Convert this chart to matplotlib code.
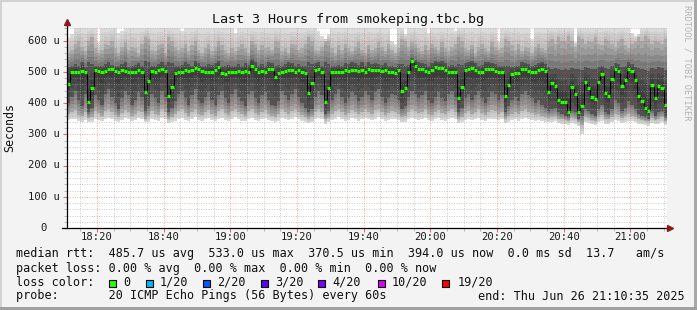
import numpy as np
import matplotlib
matplotlib.use('Agg')
import matplotlib.pyplot as plt
from matplotlib.patches import Rectangle
from matplotlib.colors import to_rgb
from matplotlib.transforms import blended_transform_factory

# ---------------- data ----------------
START_MIN = 11  # first sample column starts at 18:11 (minutes after 18:00)

median = [
    462, 500, 500, 500, 503, 500, 402, 447, 506, 503,
    500, 503, 508, 508, 503, 500, 505, 503, 500, 500,
    500, 505, 500, 434, 470, 503, 500, 505, 508, 503,
    422, 450, 496, 500, 500, 505, 503, 506, 512, 510,
    503, 500, 500, 500, 505, 516, 495, 494, 500, 500,
    500, 503, 500, 503, 500, 519, 508, 500, 503, 500,
    508, 508, 484, 495, 500, 503, 506, 506, 500, 505,
    500, 495, 431, 465, 505, 508, 500, 402, 447, 500,
    500, 500, 500, 505, 503, 506, 506, 503, 506, 500,
    508, 505, 505, 505, 503, 505, 500, 500, 496, 505,
    438, 447, 500, 533, 519, 508, 508, 503, 500, 505,
    516, 512, 513, 505, 500, 500, 500, 415, 452, 505,
    508, 512, 505, 500, 500, 510, 510, 508, 503, 500,
    500, 422, 458, 493, 496, 497, 508, 508, 503, 500,
    500, 506, 510, 503, 434, 463, 454, 410, 404, 402,
    372, 450, 428, 370.5, 391, 468, 447, 420, 414, 468,
    493, 431, 424, 477, 508, 503, 453, 475, 508, 503,
    475, 422, 405, 384, 374, 458, 415, 454, 447, 394,
]

smoke_max = [
    610, 620, 640, 640, 640, 640, 640, 640, 640, 595,
    640, 640, 640, 640, 640, 625, 630, 640, 640, 640,
    640, 640, 640, 640, 640, 640, 640, 640, 640, 640,
    640, 640, 640, 640, 630, 640, 640, 640, 640, 640,
    640, 640, 640, 640, 640, 640, 640, 640, 640, 640,
    625, 640, 640, 640, 640, 640, 640, 640, 640, 640,
    640, 640, 640, 640, 640, 640, 640, 640, 640, 640,
    640, 640, 640, 640, 640, 630, 615, 600, 620, 640,
    640, 640, 640, 640, 640, 640, 640, 640, 640, 640,
    640, 640, 640, 640, 640, 640, 640, 600, 590, 640,
    640, 620, 640, 640, 640, 640, 640, 640, 625, 640,
    640, 640, 640, 640, 640, 640, 630, 640, 640, 640,
    640, 640, 640, 640, 640, 640, 640, 640, 640, 600,
    640, 640, 640, 640, 640, 640, 640, 640, 640, 605,
    640, 640, 640, 640, 640, 640, 640, 640, 640, 640,
    640, 640, 595, 640, 640, 640, 640, 640, 640, 640,
    640, 640, 640, 640, 640, 640, 640, 640, 640, 625,
    615, 620, 640, 640, 640, 640, 640, 640, 640, 640,
]

smoke_hi2 = [
    560, 570, 590, 600, 580, 565, 600, 610, 575, 560,
    570, 590, 585, 600, 575, 560, 580, 595, 570, 580,
    575, 560, 590, 610, 605, 570, 565, 585, 590, 560,
    610, 600, 580, 570, 575, 590, 565, 585, 600, 570,
    560, 575, 590, 565, 580, 600, 585, 570, 560, 575,
    565, 580, 590, 575, 560, 600, 590, 570, 585, 575,
    580, 570, 600, 595, 565, 575, 560, 590, 585, 570,
    575, 590, 610, 600, 570, 565, 580, 605, 600, 575,
    560, 585, 570, 590, 575, 565, 580, 595, 570, 560,
    585, 570, 575, 595, 580, 565, 590, 570, 560, 575,
    605, 600, 580, 595, 590, 575, 565, 585, 570, 590,
    580, 570, 595, 575, 565, 580, 590, 610, 600, 575,
    570, 585, 560, 580, 590, 575, 565, 595, 580, 570,
    575, 605, 600, 585, 570, 590, 565, 580, 575, 560,
    580, 590, 575, 570, 600, 605, 590, 610, 600, 595,
    615, 600, 580, 610, 605, 590, 600, 595, 610, 590,
    585, 605, 600, 590, 580, 595, 605, 585, 575, 590,
    595, 610, 600, 615, 605, 590, 600, 595, 590, 605,
]

smoke_hi1 = [
    515, 520, 525, 520, 530, 515, 530, 525, 520, 518,
    520, 525, 530, 522, 518, 520, 525, 530, 515, 520,
    522, 528, 520, 535, 530, 520, 518, 525, 530, 522,
    530, 528, 520, 518, 522, 530, 525, 520, 535, 528,
    520, 518, 525, 522, 528, 535, 520, 518, 522, 520,
    518, 525, 520, 528, 522, 540, 530, 520, 525, 518,
    530, 528, 520, 522, 518, 525, 530, 528, 520, 525,
    520, 518, 530, 525, 528, 530, 520, 530, 525, 520,
    518, 522, 520, 528, 525, 530, 528, 522, 530, 520,
    530, 525, 528, 525, 522, 528, 520, 518, 516, 525,
    525, 520, 522, 545, 538, 530, 528, 525, 520, 528,
    535, 532, 533, 528, 520, 522, 518, 525, 522, 528,
    530, 535, 528, 520, 522, 532, 530, 528, 525, 520,
    518, 520, 518, 515, 518, 520, 530, 528, 525, 520,
    522, 528, 532, 525, 515, 510, 512, 508, 505, 510,
    505, 512, 510, 508, 505, 515, 512, 510, 508, 515,
    520, 512, 510, 518, 528, 525, 515, 520, 530, 525,
    515, 512, 508, 505, 502, 512, 508, 515, 512, 505,
]

smoke_lo1 = [
    400, 420, 440, 410, 390, 430, 370, 385, 425, 410,
    395, 430, 445, 420, 400, 380, 415, 440, 425, 395,
    410, 435, 420, 375, 390, 430, 415, 400, 440, 420,
    370, 385, 405, 430, 440, 415, 395, 425, 445, 410,
    400, 420, 435, 410, 395, 425, 440, 415, 400, 430,
    445, 420, 405, 390, 430, 440, 415, 400, 425, 435,
    410, 395, 390, 405, 440, 425, 410, 430, 445, 420,
    400, 385, 370, 380, 420, 440, 425, 365, 375, 410,
    430, 445, 420, 400, 415, 435, 425, 405, 420, 440,
    425, 410, 435, 445, 420, 400, 415, 430, 425, 410,
    380, 390, 420, 440, 430, 415, 425, 440, 410, 400,
    420, 435, 415, 405, 430, 440, 420, 370, 385, 415,
    430, 410, 425, 440, 415, 400, 420, 435, 430, 410,
    425, 370, 390, 410, 420, 405, 430, 440, 425, 415,
    400, 410, 395, 385, 375, 380, 385, 370, 365, 360,
    355, 375, 370, 350, 360, 380, 375, 365, 360, 380,
    395, 370, 365, 380, 410, 400, 375, 385, 405, 395,
    380, 365, 360, 355, 350, 375, 360, 370, 375, 355,
]

smoke_lo2 = [
    365, 372, 378, 362, 358, 370, 352, 356, 374, 368,
    360, 375, 380, 370, 362, 355, 368, 378, 372, 360,
    366, 376, 370, 350, 358, 374, 366, 362, 380, 372,
    350, 356, 364, 376, 380, 368, 360, 372, 382, 366,
    362, 370, 378, 366, 360, 374, 380, 368, 362, 376,
    382, 370, 364, 358, 376, 380, 368, 362, 372, 378,
    366, 360, 356, 364, 380, 372, 366, 376, 382, 370,
    362, 356, 350, 354, 370, 380, 372, 348, 352, 366,
    376, 382, 370, 362, 368, 378, 372, 364, 370, 380,
    372, 366, 378, 382, 370, 362, 368, 376, 372, 366,
    354, 358, 370, 380, 376, 368, 372, 380, 366, 362,
    370, 378, 368, 364, 376, 380, 370, 350, 356, 368,
    376, 366, 372, 380, 368, 362, 370, 378, 376, 366,
    372, 350, 358, 366, 370, 364, 376, 380, 372, 368,
    362, 366, 360, 356, 352, 355, 358, 350, 348, 346,
    344, 352, 350, 340, 330, 355, 352, 346, 344, 356,
    362, 350, 348, 356, 366, 362, 352, 358, 364, 360,
    354, 348, 346, 344, 342, 352, 346, 350, 354, 344,
]

smoke_min = [
    345, 348, 350, 342, 340, 346, 338, 340, 350, 346,
    344, 350, 352, 348, 342, 340, 346, 352, 350, 344,
    346, 352, 348, 338, 340, 350, 346, 344, 352, 348,
    336, 340, 344, 350, 352, 346, 342, 348, 354, 346,
    344, 348, 352, 346, 342, 350, 352, 346, 344, 350,
    354, 348, 344, 342, 350, 352, 346, 344, 348, 352,
    346, 342, 340, 344, 352, 348, 346, 350, 354, 348,
    344, 340, 336, 338, 348, 352, 348, 334, 338, 346,
    350, 354, 348, 344, 346, 352, 348, 344, 348, 352,
    348, 346, 350, 354, 348, 344, 346, 350, 348, 346,
    338, 340, 348, 352, 350, 346, 348, 352, 346, 344,
    348, 352, 346, 344, 350, 352, 348, 336, 340, 346,
    350, 346, 348, 352, 346, 344, 348, 350, 350, 346,
    348, 336, 340, 346, 348, 344, 350, 352, 348, 346,
    344, 346, 342, 340, 338, 340, 342, 336, 334, 332,
    330, 336, 334, 325, 300, 338, 336, 332, 330, 338,
    342, 334, 332, 338, 346, 342, 336, 340, 344, 342,
    338, 334, 332, 330, 328, 336, 332, 334, 338, 330,
]

x_tick_pos = [20, 40, 60, 80, 100, 120, 140, 160, 180]
x_tick_labels = ["18:20", "18:40", "19:00", "19:20", "19:40",
                 "20:00", "20:20", "20:40", "21:00"]
y_ticks = [0, 100, 200, 300, 400, 500, 600]
y_tick_labels = ["0", "100 u", "200 u", "300 u", "400 u", "500 u", "600 u"]

loss_labels = ["0", "1/20", "2/20", "3/20", "4/20", "10/20", "19/20"]
loss_colors = ["#26ff00", "#00b8ff", "#0059ff", "#5e00ff", "#7e00ff",
               "#dd00ff", "#ff0000"]

title = "Last 3 Hours from smokeping.tbc.bg"
legend_rtt = ("median rtt:  485.7 us avg  533.0 us max  370.5 us min  "
              "394.0 us now  0.0 ms sd  13.7   am/s")
legend_loss = "packet loss: 0.00 % avg  0.00 % max  0.00 % min  0.00 % now"
legend_probe = "probe:       20 ICMP Echo Pings (56 Bytes) every 60s"
legend_end = "end: Thu Jun 26 21:10:35 2025"

# ---------------- figure ----------------
W, H = 697, 310
MONO = "DejaVu Sans Mono"

fig = plt.figure(figsize=(W / 100, H / 100), dpi=100)
fig.patch.set_facecolor("#f3f3f3")


def fx(px):
    return px / W


def fy(py):
    return 1 - py / H


ax = fig.add_axes([fx(67), fy(228), 600 / W, 200 / H])
ax.set_facecolor("white")
for s in ax.spines.values():
    s.set_visible(False)

n = len(median)
xe = START_MIN + np.arange(n + 1)


def ext(a):
    a = np.asarray(a, dtype=float)
    return np.append(a, a[-1])


def mix(c1, c2, t):
    a, b = np.array(to_rgb(c1)), np.array(to_rgb(c2))
    return tuple(a + (b - a) * t)


def grad_band(inner, outer, c_in, c_out, k=4):
    """Shade the region between inner and outer edges in k tone steps."""
    inner = ext(inner)
    outer = ext(outer)
    for j in range(k):
        e0 = inner + (outer - inner) * j / k
        e1 = inner + (outer - inner) * (j + 1) / k
        ax.fill_between(xe, e0, e1, step="post",
                        color=mix(c_in, c_out, (j + 0.5) / k),
                        linewidth=0, antialiased=False, zorder=1)


med_c = np.clip(np.asarray(median, float), smoke_lo1, smoke_hi1)
grad_band(med_c, smoke_hi1, "#363636", "#585858", 3)
grad_band(smoke_hi1, smoke_hi2, "#707070", "#b0b0b0", 4)
grad_band(smoke_hi2, smoke_max, "#bababa", "#dedede", 4)
grad_band(med_c, smoke_lo1, "#363636", "#585858", 3)
grad_band(smoke_lo1, smoke_lo2, "#6e6e6e", "#aaaaaa", 4)
grad_band(smoke_lo2, smoke_min, "#bcbcbc", "#dcdcdc", 3)

ax.set_xlim(START_MIN, START_MIN + n)
ax.set_ylim(0, 640)

# grid (drawn over the smoke like rrdtool)
dots = (0, (1, 1.5))
for m in range(15, 195, 5):
    if m % 20 != 0:
        ax.axvline(m, color="#a8a8a8", lw=0.7, ls=dots, alpha=0.6, zorder=2)
for v in range(20, 660, 20):
    if v % 100 != 0:
        ax.axhline(v, color="#a8a8a8", lw=0.7, ls=dots, alpha=0.6, zorder=2)
for m in x_tick_pos:
    ax.axvline(m, color="#ff3030", lw=0.7, ls=dots, alpha=0.45, zorder=2)
for v in y_ticks[1:]:
    ax.axhline(v, color="#ff3030", lw=0.7, ls=dots, alpha=0.45, zorder=2)

# median: thin black step line + green loss-coloured segments
ax.step(xe, ext(median), where="post", color="black", lw=0.7, zorder=3)
ax.hlines(median, xe[:-1], xe[1:], colors=loss_colors[0], lw=2.3,
          zorder=4)

# ticks
ax.set_xticks(x_tick_pos)
ax.set_xticks(list(range(15, 195, 5)), minor=True)
ax.set_yticks(y_ticks)
ax.set_yticks(list(range(0, 660, 20)), minor=True)
ax.tick_params(which="major", length=3, width=0.8, color="#e07070",
               labelbottom=False, labelleft=False, direction="out")
ax.tick_params(which="minor", length=2, width=0.6, color="#b0b0b0",
               direction="out")

# axis lines + arrows
ax.plot([START_MIN, START_MIN], [0, 662], color="black", lw=0.9,
        clip_on=False, zorder=5)
ax.plot([START_MIN - 1.5, START_MIN + n + 0.8], [0, 0], color="black",
        lw=0.9, clip_on=False, zorder=5)
ax.plot([START_MIN], [658], marker="^", color="#8b1a1a", markersize=4.5,
        clip_on=False, zorder=6)
ax.plot([START_MIN + n + 1.0], [0], marker=">", color="#8b1a1a",
        markersize=4.5, clip_on=False, zorder=6)

# tick labels
ylab_tr = blended_transform_factory(fig.transFigure, ax.transData)
for v, lab in zip(y_ticks, y_tick_labels):
    xr = 59.5 if lab != "0" else 46.5
    ax.text(fx(xr), v, lab, transform=ylab_tr, ha="right", va="center",
            family=MONO, fontsize=7.6, color="#1a1a1a")
xlab_tr = blended_transform_factory(ax.transData, fig.transFigure)
for m, lab in zip(x_tick_pos, x_tick_labels):
    ax.text(m, fy(237.5), lab, transform=xlab_tr, ha="center", va="center",
            family=MONO, fontsize=7.6, color="#1a1a1a")

# texts
fig.text(fx(348), fy(20), title, ha="center", va="center", family=MONO,
         fontsize=9.6, color="#111111")
fig.text(fx(10), fy(127), "Seconds", rotation=90, ha="center", va="center",
         family=MONO, fontsize=8.4, color="#111111")
fig.text(fx(687), fy(5), "RRDTOOL / TOBI OETIKER", rotation=270,
         ha="center", va="top", family=MONO, fontsize=6.2, color="#b4b4b4")

LEG = 8.5
fig.text(fx(16), fy(254), legend_rtt, ha="left", va="center", family=MONO,
         fontsize=LEG, color="#111111")
fig.text(fx(16), fy(268.3), legend_loss, ha="left", va="center",
         family=MONO, fontsize=LEG, color="#111111")
fig.text(fx(16), fy(282.3), "loss color:", ha="left", va="center",
         family=MONO, fontsize=LEG, color="#111111")
box_x = [108.7, 145.7, 203.3, 261.0, 318.3, 378.3, 442.3]
lab_x = [123.3, 160.0, 217.3, 275.3, 332.7, 391.7, 457.3]
for bx, lx, lab, col in zip(box_x, lab_x, loss_labels, loss_colors):
    fig.add_artist(Rectangle((fx(bx), fy(286.5)), 7 / W, 7 / H,
                             transform=fig.transFigure, facecolor=col,
                             edgecolor="black", linewidth=0.8))
    fig.text(fx(lx), fy(282.3), lab, ha="left", va="center", family=MONO,
             fontsize=LEG, color="#111111")
fig.text(fx(16), fy(296), legend_probe, ha="left", va="center", family=MONO,
         fontsize=LEG, color="#111111")
fig.text(fx(478.3), fy(296), legend_end, ha="left", va="center",
         family=MONO, fontsize=LEG, color="#111111")

# 3D-ish frame
fig.add_artist(Rectangle((0, 1 - 2 / H), 1, 2 / H, transform=fig.transFigure,
                         facecolor="#d2d2d2", edgecolor="none"))
fig.add_artist(Rectangle((0, 0), 2 / W, 1, transform=fig.transFigure,
                         facecolor="#d2d2d2", edgecolor="none"))
fig.add_artist(Rectangle((1 - 3 / W, 0), 3 / W, 1, transform=fig.transFigure,
                         facecolor="#a8a8a8", edgecolor="none"))
fig.add_artist(Rectangle((0, 0), 1, 3 / H, transform=fig.transFigure,
                         facecolor="#a0a0a0", edgecolor="none"))

fig.savefig("out.png", dpi=100, facecolor=fig.get_facecolor())
